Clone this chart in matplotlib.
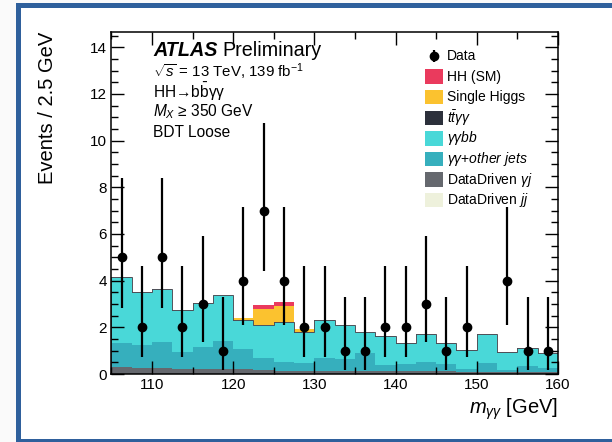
import matplotlib
matplotlib.use('agg')
import numpy as np
import matplotlib.pyplot as plt
from matplotlib.patches import Rectangle

plt.rcParams['font.family'] = ['Liberation Sans', 'DejaVu Sans']
plt.rcParams['mathtext.fontset'] = 'custom'
plt.rcParams['mathtext.rm'] = 'Liberation Sans'
plt.rcParams['mathtext.it'] = 'Liberation Sans:italic'
plt.rcParams['mathtext.bf'] = 'Liberation Sans:bold'

# m_yy binning, 2.5 GeV bins from 105 to 160
edges = np.arange(105.0, 160.01, 2.5)
centers = 0.5 * (edges[:-1] + edges[1:])

# observed events per bin and the ends of their error bars
data = [5, 2, 5, 2, 3, 1, 4, 7, 4, 2, 2, 1, 1, 2, 2, 3, 1, 2, 0, 4, 1, 1]
data_lo = [2.84, 0.71, 2.84, 0.71, 1.37, 0.17, 2.09, 4.42, 2.09, 0.71, 0.71,
           0.17, 0.17, 0.71, 0.71, 1.37, 0.17, 0.71, 0.0, 2.09, 0.17, 0.17]
data_hi = [8.38, 4.64, 8.38, 4.64, 5.92, 3.30, 7.16, 10.77, 7.16, 4.64, 4.64,
           3.30, 3.30, 4.64, 4.64, 5.92, 3.30, 4.64, 0.0, 7.16, 3.30, 3.30]

# stacked backgrounds / signal, bottom to top
dd_jj = [0.0] * 22
dd_gj = [0.31, 0.27, 0.27, 0.21, 0.20, 0.22, 0.20, 0.17, 0.15, 0.15, 0.14,
         0.13, 0.13, 0.12, 0.12, 0.12, 0.11, 0.10, 0.10, 0.10, 0.10, 0.10]
yy_jets = [1.00, 0.97, 1.11, 0.75, 0.94, 1.21, 0.86, 0.50, 0.38, 0.34, 0.56,
           0.50, 0.78, 0.27, 0.31, 0.41, 0.32, 0.11, 0.36, 0.07, 0.24, 0.14]
yybb = [2.81, 2.24, 2.23, 1.76, 1.87, 1.94, 1.21, 1.41, 1.65, 1.28, 1.59,
        1.45, 0.88, 1.19, 0.86, 1.15, 0.86, 0.77, 1.23, 0.75, 0.74, 0.63]
ttyy = [0.03] * 22
single_h = [0.0, 0.0, 0.0, 0.0, 0.0, 0.0, 0.08, 0.67, 0.69, 0.11, 0.0,
            0.0, 0.0, 0.0, 0.0, 0.0, 0.0, 0.0, 0.0, 0.0, 0.0, 0.0]
hh_sm = [0.0, 0.0, 0.0, 0.0, 0.0, 0.0, 0.03, 0.19, 0.17, 0.02, 0.0,
         0.0, 0.0, 0.0, 0.0, 0.0, 0.0, 0.0, 0.0, 0.0, 0.0, 0.0]

stack = [dd_jj, dd_gj, yy_jets, yybb, ttyy, single_h, hh_sm]
colors = ['#eef1dc', '#65686e', '#36afbd', '#49d8d8', '#2c303b', '#fbc22f', '#ea3a5d']
labels = ['DataDriven $jj$', r'DataDriven $\gamma j$', r'$\gamma\gamma$+$other\ jets$',
          r'$\gamma\gamma bb$', r'$t\bar{t}\gamma\gamma$', 'Single Higgs', 'HH (SM)']

fig = plt.figure(figsize=(6.12, 4.42), dpi=100, facecolor='#fafafa')

# blue slide frame
frame = Rectangle((17.5 / 612, 1.0 / 442), 605 / 612, 436.5 / 442,
                  transform=fig.transFigure, facecolor='white',
                  edgecolor='#2f609c', linewidth=3.6, zorder=-10)
fig.patches.append(frame)

ax = fig.add_axes([0.182, 0.1538, 0.7297, 0.7738])

base = np.zeros(22)
for vals, c in zip(stack, colors):
    top = base + np.array(vals)
    ax.stairs(top, edges, baseline=base, fill=True, color=c, lw=0)
    base = top
# thin dark outline along top of the continuum stack
cont_top = np.sum(stack[:5], axis=0)
ax.stairs(cont_top, edges, color='#50535a', lw=0.7)

# data points (zero bins not drawn)
d = np.array(data, dtype=float)
m = d > 0
lo = d - np.array(data_lo)
hi = np.array(data_hi) - d
ax.errorbar(centers[m], d[m], yerr=[lo[m], hi[m]], fmt='o', color='black',
            ms=6, elinewidth=1.6, capsize=0, zorder=5)

ax.set_xlim(105, 160)
ax.set_ylim(0, 14.65)
ax.set_xticks([110, 120, 130, 140, 150, 160])
ax.set_xticks(np.arange(105, 161, 5), minor=True)
ax.set_yticks(np.arange(0, 15, 2))
ax.set_yticks(np.arange(0, 14.6, 0.5), minor=True)
ax.tick_params(which='both', direction='in', top=True, right=True, labelsize=11, width=1)
ax.tick_params(which='major', length=9.5, pad=3)
ax.tick_params(which='minor', length=5)
for s in ax.spines.values():
    s.set_linewidth(1.1)

ax.set_ylabel('Events / 2.5 GeV', fontsize=14.5, ha='right', y=1.0)
ax.yaxis.set_label_coords(-0.122, 1.0)
ax.set_xlabel(r'$m_{\gamma\gamma}$ [GeV]', fontsize=14.5, ha='right', x=1.0)
ax.xaxis.set_label_coords(1.0, -0.066)

# ATLAS label block
atl = ax.text(0.093, 0.930, 'ATLAS', transform=ax.transAxes, fontsize=14.2,
              fontweight='bold', fontstyle='italic', va='baseline')
ax.annotate('Preliminary', xy=(1, 0), xycoords=atl, xytext=(4, 0),
            textcoords='offset points', fontsize=14.2, va='bottom')
ax.text(0.093, 0.868, r'$\sqrt{s}$ = 13 TeV, 139 fb$^{\mathrm{-1}}$', transform=ax.transAxes,
        fontsize=10.8, va='baseline')
ax.text(0.093, 0.806, r'HH→b$\bar{\mathrm{b}}$γγ', transform=ax.transAxes,
        fontsize=11.2, va='baseline')
ax.text(0.093, 0.753, r'$M_{X}$ ≥ 350 GeV', transform=ax.transAxes,
        fontsize=11.2, va='baseline')
ax.text(0.093, 0.692, 'BDT Loose', transform=ax.transAxes, fontsize=11.2, va='baseline')

# legend, drawn row by row
row_y = 0.93
dy = 20.6 / 342
ax.errorbar([0.722], [row_y], yerr=[[0.017], [0.017]], fmt='o', color='black',
            ms=6, elinewidth=1.6, transform=ax.transAxes, clip_on=False)
ax.text(0.752, row_y, 'Data', transform=ax.transAxes, fontsize=10, va='center')
for i, (lab, c) in enumerate(zip(labels[::-1], colors[::-1])):
    yy = row_y - (i + 1) * dy
    ax.add_patch(Rectangle((0.702, yy - 0.021), 0.041, 0.042, transform=ax.transAxes,
                           facecolor=c, edgecolor='none'))
    ax.text(0.752, yy, lab, transform=ax.transAxes, fontsize=10, va='center')

plt.savefig('out.png', dpi=100, facecolor=fig.get_facecolor())
